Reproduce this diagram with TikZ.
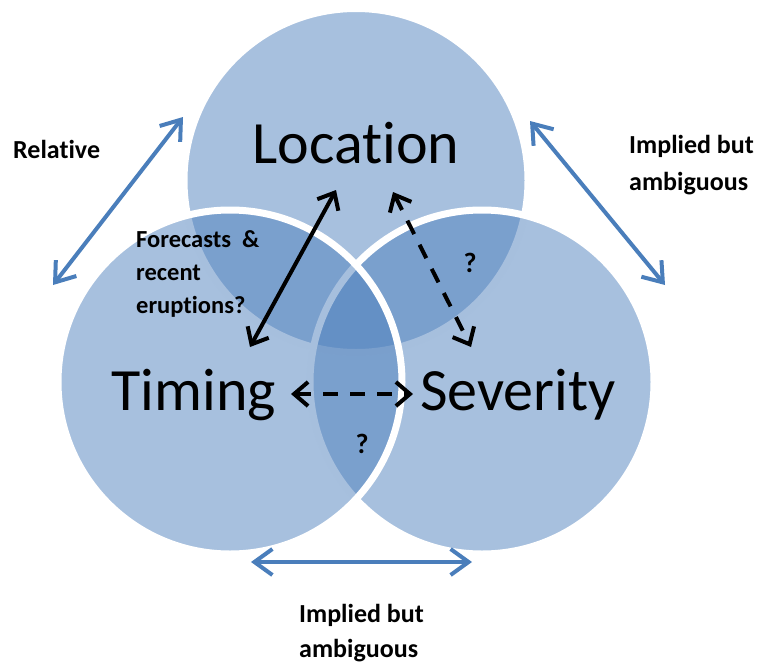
\documentclass[tikz,border=0pt]{standalone}
\usepackage{fontspec}
\setmainfont{Carlito}[Ligatures={NoCommon}, RawFeature={-liga;-clig}]
\usetikzlibrary{arrows.meta}
\definecolor{accent}{HTML}{4F81BD}
\definecolor{linkblue}{HTML}{4A7EBB}

\begin{document}
\begin{tikzpicture}[x=1pt,y=-1pt,
  setcircle/.style={circle, inner sep=0pt, minimum size=344pt, draw=white,
    line width=7pt, fill=accent, fill opacity=0.5},
  bigword/.style={font=\fontsize{60}{72}\selectfont, inner sep=0pt, anchor=base},
  note/.style={font=\bfseries\fontsize{26}{33}\selectfont, inner sep=0pt,
    align=left, anchor=base west},
  qmark/.style={font=\bfseries\fontsize{28}{30}\selectfont, inner sep=0pt, anchor=base},
  blink/.style={draw=linkblue, line width=4pt,
    {Straight Barb[length=18pt,width=26pt]}-{Straight Barb[length=18pt,width=26pt]}},
  klink/.style={draw=black, line width=4pt,
    {Straight Barb[length=14pt,width=24pt]}-{Straight Barb[length=14pt,width=24pt]}},
  kdash/.style={klink, dash pattern=on 15pt off 12pt},
]
\useasboundingbox (0,0) rectangle (760,664);

% the three sets, drawn top, right, left so the white rims overlap correctly
\node[setcircle] (locset) at (356,180.5) {};
\node[setcircle] (sevset) at (482,382) {};
\node[setcircle] (timset) at (230,382) {};

% set names
\node[bigword] (loc) at (356,163) {Location};
\node[bigword] (tim) at (194,410) {Timing};
\node[bigword] (sev) at (518,410) {Severity};

% annotations (multi-line ones are placed by the baseline of their last line)
\node[note] (rel) at (13,158) {Relative};
\node[note, font=\bfseries\fontsize{26}{37}\selectfont] (impr) at (629,190) {Implied but\\ambiguous};
\node[note, font=\bfseries\fontsize{26}{35}\selectfont] (impb) at (299,657) {Implied but\\ambiguous};
\node[note, font=\bfseries\fontsize{24.5}{33}\selectfont] (fore) at (136,313) {Forecasts~~\&\\recent\\eruptions?};
\node[qmark] (q1) at (470,272) {?};
\node[qmark] (q2) at (362,453) {?};

% end points of the relation arrows
\coordinate (lt) at (336,190);
\coordinate (tt) at (250,347);
\coordinate (ls) at (393,192);
\coordinate (st) at (471,347);
\coordinate (ta) at (291,394);
\coordinate (sa) at (413,394);
\coordinate (bl1) at (183,117);
\coordinate (bl2) at (53,285);
\coordinate (br1) at (530,121);
\coordinate (br2) at (665,285);
\coordinate (bb1) at (251,562);
\coordinate (bb2) at (472,562);

% relations inside the diagram
\draw[klink] (lt) -- (tt);
\draw[kdash] (ls) -- (st);
\draw[kdash] (ta) -- (sa);

% relations around the diagram
\draw[blink] (bl1) -- (bl2);
\draw[blink] (br1) -- (br2);
\draw[blink] (bb1) -- (bb2);
\end{tikzpicture}
\end{document}
